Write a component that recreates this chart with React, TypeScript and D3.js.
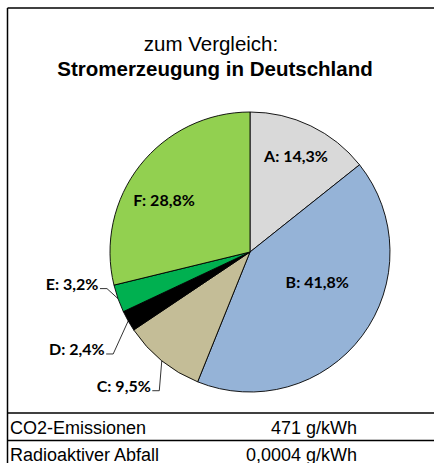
import React from "react";
import * as d3 from "d3";

const categories = ["A", "B", "C", "D", "E", "F"];
const shares = [14.3, 41.8, 9.5, 2.4, 3.2, 28.8];
const sliceColors = ["#D9D9D9", "#95B3D7", "#C4BD97", "#000000", "#00B050", "#92D050"];
const titleLines = ["zum Vergleich:", "Stromerzeugung in Deutschland"];
const tableLabels = ["CO2-Emissionen", "Radioaktiver Abfall"];
const tableValues = ["471 g/kWh", "0,0004 g/kWh"];

// label placement (layout, not data)
const inside: Record<string, { deg: number; r: number }> = {
  A: { deg: 25.7, r: 106 },
  B: { deg: 114.7, r: 74 },
  F: { deg: 300.7, r: 100 },
};
const outside: Record<string, { dx: number; dy: number }> = {
  C: { dx: -2.5, dy: 30 },
  D: { dx: -15, dy: 33 },
  E: { dx: -11, dy: -10 },
};

const W = 434;
const H = 463;
const cx = 250;
const cy = 252;
const R = 140;

const fmt = (v: number) => v.toFixed(1).replace(".", ",") + "%";

export default function App() {
  const pie = d3
    .pie<number>()
    .sort(null)
    .value((d) => d)(shares);
  const arc = d3.arc<d3.PieArcDatum<number>>().innerRadius(0).outerRadius(R);
  const polar = (deg: number, r: number) => {
    const a = (deg * Math.PI) / 180;
    return [cx + r * Math.sin(a), cy - r * Math.cos(a)];
  };
  const labelFont = "Lato, 'Open Sans', sans-serif";
  const sans = "'Liberation Sans', Arial, sans-serif";

  return (
    <svg
      width={W}
      height={H}
      style={{ position: "absolute", left: 0, top: 0, background: "#fff" }}
    >
      <rect x={0} y={0} width={W} height={H} fill="#fff" />
      {/* frame */}
      <line x1={7.5} y1={8} x2={W} y2={8} stroke="#000" strokeWidth={1.5} />
      <line x1={7.5} y1={8} x2={7.5} y2={H} stroke="#000" strokeWidth={1.5} />
      <line x1={7.5} y1={413} x2={W} y2={413} stroke="#000" strokeWidth={1.5} />
      <line x1={7.5} y1={440.5} x2={W} y2={440.5} stroke="#000" strokeWidth={1.5} />

      {/* title */}
      <text x={211} y={51} textAnchor="middle" fontFamily={sans} fontSize={20.5} fill="#000">
        {titleLines[0]}
      </text>
      <text x={215} y={76} textAnchor="middle" fontFamily={sans} fontSize={20.5} fontWeight="bold" fill="#000">
        {titleLines[1]}
      </text>

      {/* pie */}
      <g transform={`translate(${cx},${cy})`}>
        {pie.map((p, i) => (
          <path key={i} d={arc(p) || ""} fill={sliceColors[i]} stroke="#000" strokeWidth={0.9} />
        ))}
      </g>

      {/* labels */}
      {pie.map((p, i) => {
        const cat = categories[i];
        const txt = `${cat}: ${fmt(shares[i])}`;
        if (inside[cat]) {
          const [x, y] = polar(inside[cat].deg, inside[cat].r);
          return (
            <text
              key={cat}
              x={x}
              y={y + 5.5}
              textAnchor="middle"
              fontFamily={labelFont}
              fontWeight={700}
              fontSize={16}
              fill="#000"
            >
              {txt}
            </text>
          );
        }
        const o = outside[cat];
        const midDeg = (((p.startAngle + p.endAngle) / 2) * 180) / Math.PI;
        const [ax, ay] = polar(midDeg, R);
        const ex = ax + o.dx;
        const ey = ay + o.dy;
        const hx = ex - 7;
        return (
          <g key={cat}>
            <polyline
              points={`${ax},${ay} ${ex},${ey} ${hx},${ey}`}
              fill="none"
              stroke="#000"
              strokeWidth={0.8}
            />
            <text
              x={hx - 1.5}
              y={ey + 1}
              textAnchor="end"
              fontFamily={labelFont}
              fontWeight={700}
              fontSize={16}
              fill="#000"
            >
              {txt}
            </text>
          </g>
        );
      })}

      {/* table */}
      {tableLabels.map((t, i) => (
        <g key={t}>
          <text x={10} y={434 + i * 27} fontFamily={sans} fontSize={18} fill="#000">
            {t}
          </text>
          <text x={357} y={434 + i * 27} textAnchor="end" fontFamily={sans} fontSize={18} fill="#000">
            {tableValues[i]}
          </text>
        </g>
      ))}
    </svg>
  );
}
